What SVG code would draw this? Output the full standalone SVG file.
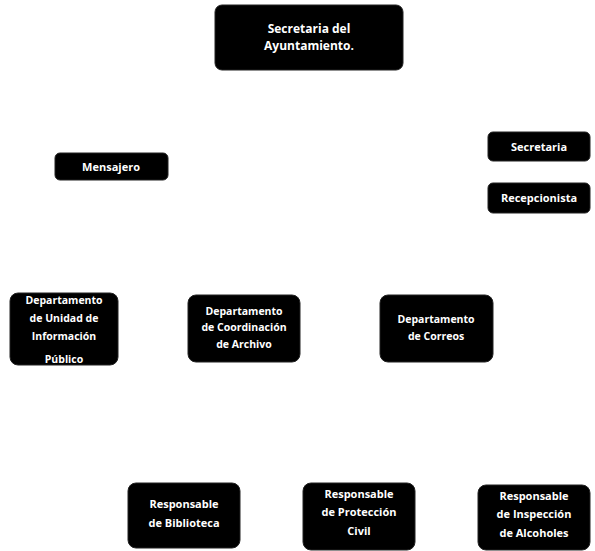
<svg xmlns="http://www.w3.org/2000/svg" width="595" height="551" viewBox="0 0 595 551">
<style>
.n{fill:#000;stroke:#222;stroke-width:1}
.t{fill:#fff;font-family:"Open Sans","Liberation Sans",sans-serif;font-weight:bold;font-size:10.5px;text-anchor:middle}
.tl{font-size:12px}
.tm{font-size:11px}
</style>
<rect width="595" height="551" fill="#fff"/>
<g id="connectors"></g>
<g id="n-secretaria-ayuntamiento"><rect class="n" x="215" y="5" width="188" height="65" rx="7"/><text class="t tl" x="309" y="33">Secretaria del</text><text class="t tl" x="309" y="50">Ayuntamiento.</text></g>
<g id="n-mensajero"><rect class="n" x="55" y="153" width="113" height="27" rx="5"/><text class="t tm" x="111" y="171">Mensajero</text></g>
<g id="n-secretaria"><rect class="n" x="488" y="132" width="102" height="29" rx="5"/><text class="t tm" x="539" y="151">Secretaria</text></g>
<g id="n-recepcionista"><rect class="n" x="488" y="183" width="102" height="30" rx="5"/><text class="t tm" x="539" y="202">Recepcionista</text></g>
<g id="n-dep-unidad"><rect class="n" x="10" y="293" width="108" height="72" rx="8"/><text class="t" x="64" y="304">Departamento</text><text class="t" x="64" y="322">de Unidad de</text><text class="t" x="64" y="340">Información</text><text class="t" x="64" y="363">Público</text></g>
<g id="n-dep-archivo"><rect class="n" x="188" y="295" width="112" height="67" rx="8"/><text class="t" x="244" y="315">Departamento</text><text class="t" x="244" y="331">de Coordinación</text><text class="t" x="244" y="348">de Archivo</text></g>
<g id="n-dep-correos"><rect class="n" x="380" y="295" width="113" height="67" rx="8"/><text class="t" x="436" y="323">Departamento</text><text class="t" x="436" y="340">de Correos</text></g>
<g id="n-resp-biblioteca"><rect class="n" x="128" y="483" width="112" height="65" rx="8"/><text class="t tm" x="184" y="508">Responsable</text><text class="t tm" x="184" y="527">de Biblioteca</text></g>
<g id="n-resp-proteccion"><rect class="n" x="303" y="483" width="112" height="67" rx="8"/><text class="t tm" x="359" y="498">Responsable</text><text class="t tm" x="359" y="516">de Protección</text><text class="t tm" x="359" y="535">Civil</text></g>
<g id="n-resp-alcoholes"><rect class="n" x="478" y="485" width="112" height="65" rx="8"/><text class="t tm" x="534" y="500">Responsable</text><text class="t tm" x="534" y="518">de Inspección</text><text class="t tm" x="534" y="537">de Alcoholes</text></g>
</svg>
